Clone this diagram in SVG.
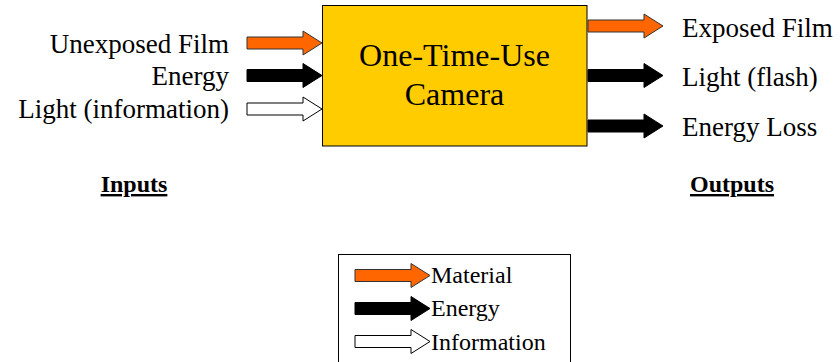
<svg xmlns="http://www.w3.org/2000/svg" width="840" height="362" viewBox="0 0 840 362">
  <style>
    text { font-family: "Liberation Serif", "Times New Roman", serif; fill: #000; }
    .lbl { font-size: 27px; }
    .title { font-size: 32px; text-anchor: middle; }
    .head { font-size: 24px; font-weight: bold; text-anchor: middle; text-decoration: underline; }
    .key { font-size: 24px; }
    .mat { fill: #FF6600; stroke: #333; stroke-width: 1; }
    .eng { fill: #000; stroke: #000; stroke-width: 1; }
    .inf { fill: #fff; stroke: #000; stroke-width: 1; }
  </style>
  <defs>
    <!-- block arrow, tail at (0,0) pointing right, 75 long -->
    <path id="blk" d="M0,-6 H56 V-12 L75,0 L56,12 V6 H0 Z"/>
  </defs>

  <rect width="840" height="362" fill="#fff"/>

  <!-- process block -->
  <g id="camera">
    <rect x="322.5" y="5.5" width="264.5" height="140.5" fill="#FFCC00" stroke="#000" stroke-width="1"/>
    <text class="title" x="454.5" y="66">One-Time-Use</text>
    <text class="title" x="454.5" y="105">Camera</text>
  </g>

  <!-- flows in and out of the block -->
  <g id="connectors">
    <use href="#blk" class="mat" x="247" y="43"/>
    <use href="#blk" class="eng" x="247" y="75.5"/>
    <use href="#blk" class="inf" x="247" y="109"/>
    <use href="#blk" class="mat" x="588" y="26"/>
    <use href="#blk" class="eng" x="588" y="75.5"/>
    <use href="#blk" class="eng" x="588" y="126"/>
  </g>

  <g id="inputs">
    <text class="lbl" x="229" y="53" text-anchor="end">Unexposed Film</text>
    <text class="lbl" x="229" y="85" text-anchor="end">Energy</text>
    <text class="lbl" x="229" y="118" text-anchor="end">Light (information)</text>
    <text class="head" x="134" y="192">Inputs</text>
  </g>

  <g id="outputs">
    <text class="lbl" x="682" y="37">Exposed Film</text>
    <text class="lbl" x="682" y="86">Light (flash)</text>
    <text class="lbl" x="682" y="136">Energy Loss</text>
    <text class="head" x="732" y="192">Outputs</text>
  </g>

  <!-- key -->
  <g id="legend">
    <rect x="338.5" y="254.5" width="232" height="130" fill="none" stroke="#000" stroke-width="1"/>
    <use href="#blk" class="mat" x="355" y="275.5"/>
    <use href="#blk" class="eng" x="355" y="308.5"/>
    <use href="#blk" class="inf" x="355" y="341.5"/>
    <text class="key" x="431" y="283">Material</text>
    <text class="key" x="431" y="316">Energy</text>
    <text class="key" x="431" y="350">Information</text>
  </g>
</svg>
